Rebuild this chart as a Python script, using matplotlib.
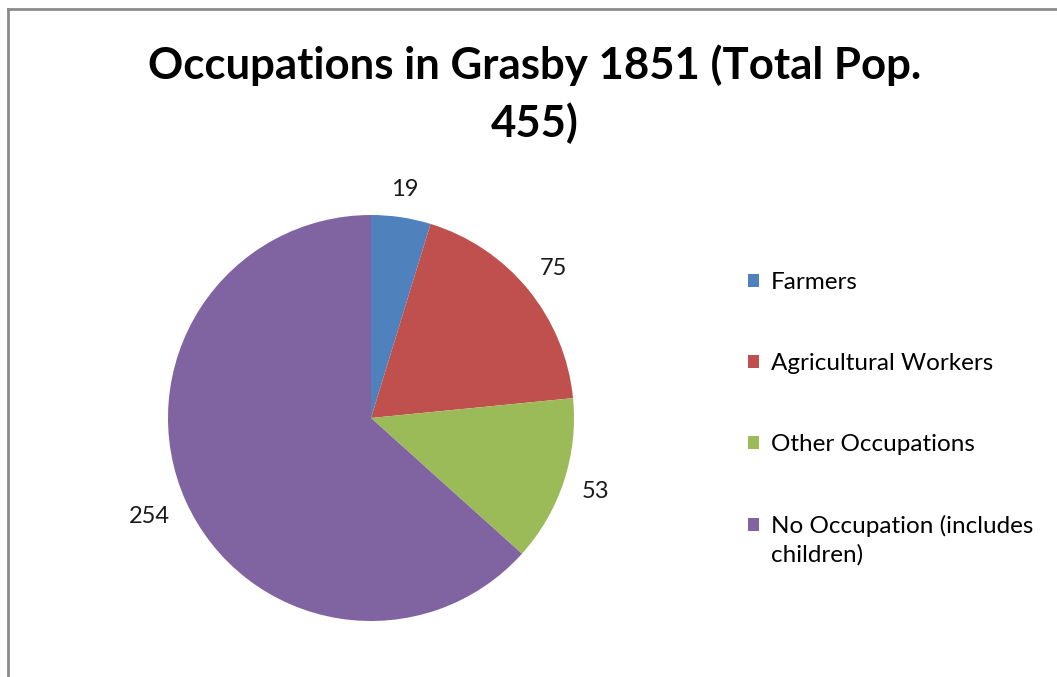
import matplotlib
matplotlib.use("Agg")
import matplotlib.pyplot as plt
import numpy as np

categories = ["Farmers", "Agricultural Workers", "Other Occupations", "No Occupation (includes\nchildren)"]
values = [19, 75, 53, 254]
colors = ["#4F81BD", "#C0504D", "#9BBB59", "#8064A2"]
title = "Occupations in Grasby 1851 (Total Pop.\n455)"

plt.rcParams['font.family'] = ['Lato', 'DejaVu Sans']

W, H = 1057, 677
fig = plt.figure(figsize=(W / 100, H / 100), dpi=100)
fig.patch.set_facecolor("white")

# chart frame (left and top visible)
fig.add_artist(plt.Line2D([8 / W, 8 / W], [0, 1 - 9 / H], color="#8C8C8C", lw=2))
fig.add_artist(plt.Line2D([8 / W, 1], [1 - 9 / H, 1 - 9 / H], color="#8C8C8C", lw=2))

cx, cy, R = 371, 418, 203
ax = fig.add_axes([(cx - R) / W, (H - cy - R) / H, 2 * R / W, 2 * R / H])
wedges, texts = ax.pie(values, colors=colors, startangle=90, counterclock=False,
                       radius=1.0, labels=[str(v) for v in values], labeldistance=1.17,
                       wedgeprops=dict(linewidth=0),
                       textprops=dict(fontsize=17, color="#1a1a1a"))
ax.set_xlim(-1, 1)
ax.set_ylim(-1, 1)
ax.set_aspect("auto")
ax.axis("off")

# Excel-like outside-end label placement: fixed gap between pie edge and label box
renderer = fig.canvas.get_renderer()
gap = 17.0
for w, t in zip(wedges, texts):
    t.set_ha("center")
    t.set_va("center")
    ang = np.deg2rad((w.theta1 + w.theta2) / 2)
    ux, uy = np.cos(ang), np.sin(ang)
    bb = t.get_window_extent(renderer)
    hw, hh = bb.width / 2, (bb.height / 2) * 0.85
    d = (R + gap + hw * abs(ux) + hh * abs(uy)) / R
    t.set_position((d * ux, d * uy))

fig.text(535 / W, 1 - 94 / H, title, ha="center", va="center", fontsize=31.5,
         fontweight="bold", linespacing=1.49)

leg_labels = [c.split("\n")[0] for c in categories]
leg = fig.legend(wedges, leg_labels, loc="upper left",
                 bbox_to_anchor=(748 / W, 1 - 272 / H), frameon=False,
                 fontsize=17.5, handlelength=0.45, handleheight=0.45,
                 handletextpad=0.5, labelspacing=2.47, borderaxespad=0, borderpad=0)
for c in categories:
    parts = c.split("\n")
    if len(parts) > 1:
        fig.text(771 / W, 1 - 555 / H, "\n".join(parts[1:]), ha="left", va="center",
                 fontsize=17.5, color="black")

fig.savefig("out.png", dpi=100)
